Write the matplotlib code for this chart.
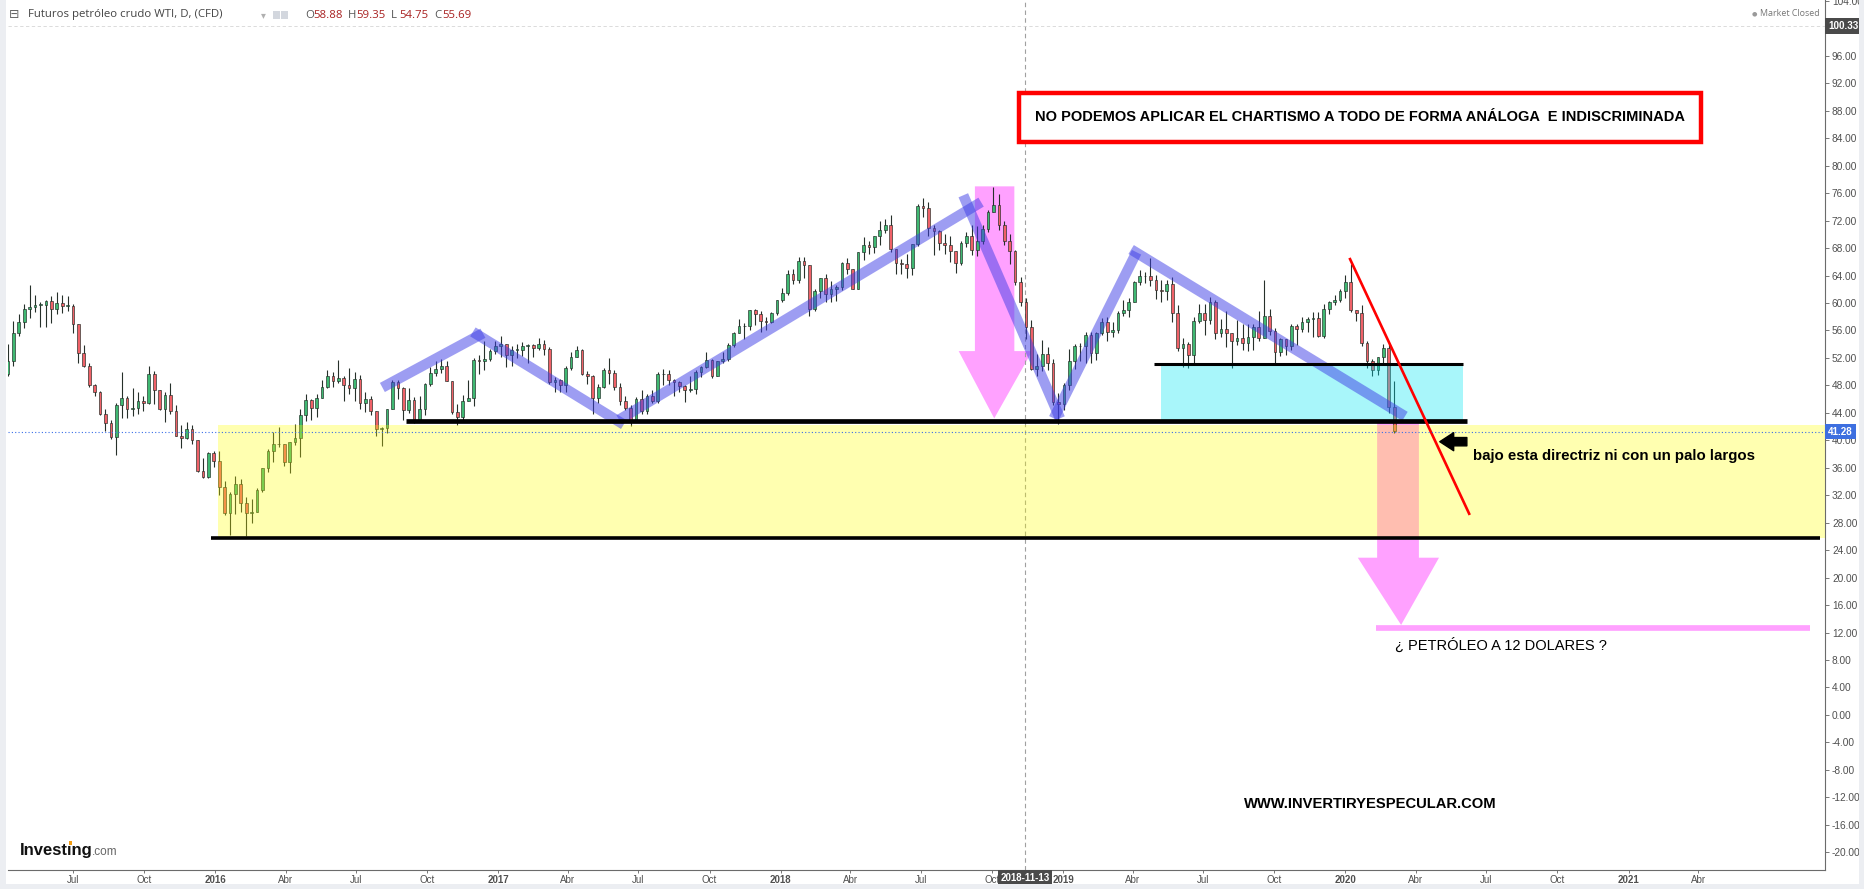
import numpy as np
import pandas as pd
import matplotlib
matplotlib.use("Agg")
import matplotlib.pyplot as plt
import matplotlib.dates as mdates
from matplotlib.patches import Rectangle, Polygon
from matplotlib.ticker import FormatStrFormatter

plt.rcParams['font.family'] = ['Liberation Sans', 'DejaVu Sans']

# weekly candles (Fri closes, open = previous close)
first_open = 49.6
close = np.array([
    # 2015
    51.6, 55.7, 57.2, 59.2, 59.4, 59.7, 59.7, 60.3, 59.1, 60.0, 59.6, 59.6, 56.9, 52.7, 50.9, 48.1, 47.1, 43.9, 42.5, 40.5,
    45.2, 46.1, 44.6, 44.7, 45.7, 45.5, 49.6, 47.3, 44.6, 46.6, 44.3, 40.7, 40.4, 41.7, 40.0, 35.6, 34.7, 38.1, 37.0,
    # 2016
    33.2, 29.4, 32.2, 33.6, 30.9, 29.4, 29.6, 32.8, 35.9, 38.5, 39.4, 39.5, 36.8, 39.7, 40.4, 43.7, 45.9, 44.7, 46.2, 47.8,
    49.3, 48.6, 49.1, 48.0, 47.6, 49.0, 45.4, 46.0, 44.2, 41.6, 41.8, 44.5, 48.5, 47.6, 44.4, 45.9, 43.0, 44.5, 48.2, 49.8,
    50.4, 50.9, 48.7, 44.1, 43.4, 45.7, 46.1, 51.7, 51.5, 51.9, 53.0, 53.7,
    # 2017
    54.0, 52.4, 53.2, 53.2, 53.8, 53.9, 53.4, 54.0, 53.3, 48.5, 48.8, 48.0, 50.6, 52.2, 53.2, 49.6, 49.3, 46.2, 47.8, 50.3,
    49.8, 47.7, 45.8, 44.7, 43.0, 46.0, 44.2, 46.5, 45.8, 49.7, 49.6, 48.8, 48.5, 47.9, 47.3, 47.5, 49.9, 50.7, 51.7, 49.3,
    51.5, 51.8, 53.9, 55.6, 56.7, 56.6, 59.0, 58.4, 57.4, 57.3, 58.5, 60.4,
    # 2018
    61.4, 64.3, 63.4, 66.1, 65.5, 59.2, 61.7, 63.6, 61.3, 62.0, 62.3, 65.9, 64.9, 62.1, 67.4, 68.4, 68.1, 69.7, 70.7, 71.3,
    67.9, 65.8, 65.7, 65.1, 68.6, 74.2, 73.8, 71.0, 70.5, 68.7, 68.5, 67.6, 65.9, 68.7, 69.8, 67.8, 69.0, 70.8, 73.3, 74.3,
    71.3, 69.1, 67.6, 63.1, 60.2, 56.5, 50.4, 50.9, 52.6, 51.2, 45.6, 45.3,
    # 2019
    48.0, 51.6, 53.8, 53.7, 55.3, 52.7, 55.6, 57.3, 55.8, 56.1, 58.5, 59.0, 60.1, 63.1, 63.9, 64.0, 63.3, 61.9, 61.7, 62.8,
    58.6, 53.5, 54.0, 52.5, 57.4, 58.5, 57.5, 60.2, 55.6, 56.2, 55.7, 54.5, 54.9, 54.2, 55.1, 56.5, 54.9, 58.1, 55.9, 52.8,
    54.7, 53.8, 56.7, 56.2, 57.2, 57.7, 57.8, 55.2, 59.2, 60.1, 60.4, 61.7,
    # 2020
    63.1, 59.0, 58.5, 54.2, 51.6, 50.3, 52.1, 53.4, 44.8, 41.3,
])
high = np.array([
    54.0, 57.4, 58.4, 59.9, 62.6, 61.1, 60.2, 60.5, 61.0, 61.6, 61.2, 61.0, 59.9, 57.0, 53.9, 51.2, 48.2, 47.2, 44.5, 42.9,
    45.5, 50.0, 46.4, 47.6, 47.0, 46.4, 50.9, 50.1, 47.3, 47.0, 48.4, 45.2, 42.3, 42.6, 42.3, 40.1, 37.4, 38.3, 38.5,
    38.4, 34.1, 32.4, 34.8, 34.4, 31.8, 31.5, 33.0, 36.0, 38.7, 41.2, 41.9, 39.5, 39.8, 42.4, 44.5, 46.8, 46.0, 46.8, 48.8,
    50.2, 50.0, 51.7, 49.3, 50.5, 49.9, 49.5, 47.0, 46.4, 44.2, 42.0, 44.6, 48.8, 48.8, 47.7, 47.6, 46.3, 46.5, 48.3, 50.7,
    51.6, 51.9, 51.5, 48.7, 45.3, 46.6, 48.8, 52.0, 52.4, 54.5, 53.3, 54.4,
    55.2, 54.0, 53.7, 54.0, 54.3, 54.0, 54.0, 54.9, 54.6, 53.6, 49.2, 48.9, 50.9, 52.9, 53.8, 53.3, 50.1, 49.5, 48.2, 50.5,
    52.0, 50.2, 48.3, 46.5, 45.1, 46.3, 47.3, 46.7, 47.4, 50.0, 50.4, 50.2, 49.0, 48.6, 48.0, 49.4, 50.3, 50.9, 52.9, 51.8,
    51.6, 52.8, 54.2, 55.8, 57.7, 57.1, 59.0, 59.1, 58.8, 58.0, 58.7, 60.5,
    62.2, 64.8, 64.9, 66.7, 66.7, 65.5, 62.0, 63.7, 64.2, 63.2, 62.6, 66.0, 66.6, 65.0, 67.5, 69.6, 69.0, 69.8, 71.9, 72.3,
    72.8, 67.9, 66.4, 67.2, 68.6, 74.5, 75.3, 74.7, 71.4, 70.6, 70.0, 69.8, 67.3, 69.0, 70.4, 71.4, 71.2, 71.3, 73.6, 76.9,
    75.9, 72.0, 70.0, 67.7, 63.8, 60.8, 57.5, 52.6, 54.6, 53.6, 51.9, 46.9,
    48.3, 53.3, 54.0, 54.2, 55.8, 55.8, 55.8, 57.8, 57.9, 57.2, 58.9, 60.4, 60.7, 63.2, 64.8, 64.5, 66.6, 64.1, 63.3, 63.4,
    63.8, 59.7, 54.9, 54.3, 58.0, 59.9, 59.9, 60.9, 60.4, 57.7, 58.8, 55.7, 57.5, 56.9, 57.0, 57.0, 58.8, 63.4, 59.1, 56.4,
    54.9, 54.2, 57.0, 56.9, 57.9, 57.9, 58.7, 58.7, 59.9, 60.3, 61.2, 62.0,
    64.1, 65.7, 59.0, 59.7, 54.5, 51.9, 52.2, 54.0, 54.0, 48.7,
])
low = np.array([
    49.4, 50.9, 55.2, 56.4, 57.8, 58.7, 56.5, 56.5, 57.1, 58.4, 58.6, 58.8, 55.6, 51.2, 50.7, 47.7, 46.4, 43.7, 41.4, 40.2,
    37.8, 43.2, 43.2, 43.6, 43.9, 44.2, 45.3, 45.3, 44.4, 42.6, 43.9, 40.6, 38.9, 40.2, 39.4, 35.4, 34.5, 34.5, 36.1,
    32.1, 29.1, 26.2, 29.3, 29.5, 26.1, 28.0, 30.0, 32.5, 35.4, 36.8, 39.0, 36.3, 35.2, 39.3, 37.6, 42.8, 43.0, 43.4, 46.3,
    47.6, 47.8, 48.4, 45.8, 46.7, 45.8, 44.6, 44.1, 43.7, 40.6, 39.2, 41.0, 44.5, 46.0, 43.0, 44.0, 42.5, 43.0, 43.7, 47.9,
    49.4, 49.8, 48.6, 43.9, 42.2, 43.0, 45.7, 45.0, 49.7, 50.3, 51.6, 52.6,
    52.1, 50.7, 50.9, 52.0, 52.3, 51.2, 52.2, 53.2, 52.5, 48.2, 47.1, 47.1, 47.1, 50.3, 52.2, 49.5, 48.2, 43.8, 45.5, 47.6,
    48.2, 47.3, 45.2, 44.4, 42.1, 42.9, 43.8, 43.8, 45.4, 45.4, 48.0, 48.1, 46.5, 47.0, 45.6, 47.0, 46.8, 49.2, 50.5, 49.1,
    49.4, 51.2, 51.5, 53.6, 55.6, 54.8, 56.1, 56.8, 55.8, 56.1, 57.1, 58.3,
    60.1, 61.2, 62.8, 62.9, 63.7, 58.1, 58.8, 60.8, 60.2, 60.1, 60.3, 61.9, 64.2, 62.0, 62.0, 66.3, 67.2, 67.3, 68.4, 70.2,
    67.4, 64.2, 64.2, 63.6, 64.1, 68.3, 72.5, 69.8, 67.0, 67.8, 67.2, 66.0, 64.4, 65.6, 68.1, 67.0, 66.9, 68.6, 70.4, 73.4,
    70.7, 68.5, 65.7, 62.6, 59.6, 54.8, 50.2, 49.4, 50.1, 50.3, 45.1, 42.4,
    44.4, 47.3, 50.4, 51.5, 51.3, 51.2, 51.7, 55.3, 54.5, 55.1, 55.7, 58.1, 58.0, 60.2, 62.6, 62.9, 62.5, 60.6, 60.1, 60.5,
    57.3, 53.0, 50.7, 50.6, 51.3, 57.1, 55.4, 57.0, 54.8, 55.1, 53.6, 50.5, 53.9, 53.2, 53.0, 53.2, 54.4, 56.9, 55.4, 51.0,
    52.3, 52.4, 53.1, 53.9, 55.8, 55.8, 55.0, 55.1, 54.9, 58.4, 59.7, 60.1,
    60.8, 58.7, 57.4, 53.8, 50.6, 49.3, 49.5, 51.2, 44.0, 41.1,
])

quarter_ticks = pd.date_range('2015-07-01', '2021-04-01', freq='QS')
quarter_labels = ['Jul', 'Oct', '2016', 'Abr', 'Jul', 'Oct', '2017', 'Abr', 'Jul', 'Oct',
                  '2018', 'Abr', 'Jul', 'Oct', '2019', 'Abr', 'Jul', 'Oct', '2020', 'Abr',
                  'Jul', 'Oct', '2021', 'Abr']
price_ticks = [p for p in range(-20, 105, 4) if p != 100]   # 100.00 sits under the crosshair label

last_price = 41.28
cross_date = '2018-11-13'
cross_price = 100.33


def d(s):
    return mdates.date2num(pd.Timestamp(s))


W, H = 1865, 889
fig = plt.figure(figsize=(W / 100, H / 100), dpi=100)
for (x0, y0, w, h) in [(0, 0, 6, H), (W - 6, 0, 6, H), (0, 0, W, 5)]:
    fig.patches.append(Rectangle((x0 / W, y0 / H), w / W, h / H, transform=fig.transFigure,
                                 fc='#eceef2', ec='none', zorder=0))

ax = fig.add_axes([8 / W, 19 / H, (1825 - 8) / W, 870 / H])
ax.set_xlim(d('2015-04-08'), d('2021-09-12'))
ax.set_ylim(-22.6, 104.15)

# candles
week_end = pd.date_range('2015-04-10', periods=len(close), freq='W-FRI')
xc = mdates.date2num(week_end - pd.Timedelta(days=2))
opens = np.r_[first_open, close[:-1]]
high = np.maximum(high, np.maximum(opens, close))
low = np.minimum(low, np.minimum(opens, close))
up = close >= opens
ax.vlines(xc, low, high, colors='#26302a', lw=0.8, zorder=2)
ax.bar(xc, np.maximum(np.abs(close - opens), 0.1), bottom=np.minimum(opens, close), width=3.5,
       color=np.where(up, '#3fb872', '#ef6168'), edgecolor='#1f2b24', linewidth=0.45, zorder=2.2)

# pink arrows (under candles)
pink = dict(fc='#ff00ff', ec='none', alpha=0.37, zorder=1)
ax.add_patch(Polygon([(d('2018-09-09'), 77.0), (d('2018-10-30'), 77.0), (d('2018-10-30'), 53.0),
                      (d('2018-11-22'), 53.0), (d('2018-10-04'), 43.2), (d('2018-08-19'), 53.0),
                      (d('2018-09-09'), 53.0)], closed=True, **pink))
ax.add_patch(Polygon([(d('2020-02-11'), 42.8), (d('2020-04-05'), 42.8), (d('2020-04-05'), 22.9),
                      (d('2020-05-01'), 22.9), (d('2020-03-13'), 13.1), (d('2020-01-17'), 22.9),
                      (d('2020-02-11'), 22.9)], closed=True, **pink))
ax.hlines(12.65, d('2020-02-10'), d('2021-08-24'), color='#ff00ff', alpha=0.37, lw=4.1, zorder=1)

# zones
ax.add_patch(Rectangle((d('2016-01-04'), 25.8), d('2022-06-01') - d('2016-01-04'), 42.3 - 25.8,
                       fc='#ffff00', ec='none', alpha=0.31, zorder=3))
ax.add_patch(Rectangle((d('2019-05-07'), 42.8), d('2020-06-01') - d('2019-05-07'), 51.1 - 42.8,
                       fc='#00e5f2', ec='none', alpha=0.34, zorder=3))

# blue trend bands
bands = [(('2016-08-04', 47.7), ('2016-12-12', 55.6)),
         (('2016-11-29', 55.8), ('2017-06-12', 42.3)),
         (('2017-06-06', 43.0), ('2018-09-17', 74.7)),
         (('2018-08-25', 75.7), ('2018-12-28', 43.2)),
         (('2018-12-20', 43.2), ('2019-04-06', 67.4)),
         (('2019-03-30', 67.8), ('2020-03-18', 43.5))]
for (a, b) in bands:
    ax.plot([d(a[0]), d(b[0])], [a[1], b[1]], color=(0.24, 0.24, 0.9), alpha=0.5, lw=7.5,
            solid_capstyle='butt', zorder=4)

# black levels
ax.hlines(25.8, d('2015-12-26'), d('2021-09-05'), color='black', lw=2.6, zorder=5)
ax.hlines(42.8, d('2016-09-03'), d('2020-06-06'), color='black', lw=3.4, zorder=5)
ax.hlines(51.1, d('2019-04-28'), d('2020-06-01'), color='black', lw=2.2, zorder=5)

# red trendline
ax.plot([d('2020-01-07'), d('2020-06-09')], [66.4, 29.3], color='#ff0000', lw=1.9, zorder=6)

# crosshair and last price line
ax.axvline(d(cross_date), color='#a0a0a0', lw=0.8, ls=(0, (4, 3)), zorder=1.5)
ax.axhline(cross_price, color='#d6d6d6', lw=0.6, ls=(0, (4, 3)), zorder=1.5)
ax.axhline(last_price, color='#3a6ee8', lw=0.8, ls=(0, (1, 2)), zorder=6)

# black arrow and texts
ax.annotate('', xy=(d('2020-05-02'), 39.8), xytext=(d('2020-06-06'), 39.8),
            arrowprops=dict(facecolor='black', edgecolor='black', width=6, headwidth=13,
                            headlength=10, shrink=0), zorder=7)
ax.text(d('2020-06-14'), 37.75, 'bajo esta directriz ni con un palo largos', fontsize=10.8,
        fontweight='bold', color='black', ha='left', va='center', zorder=7)
ax.text(d('2020-03-05'), 10.2, '¿ PETRÓLEO A 12 DOLARES ?', fontsize=10.5, color='black',
        ha='left', va='center', zorder=7)
ax.text(d('2020-02-02'), -13.0, 'WWW.INVERTIRYESPECULAR.COM', fontsize=10.6, fontweight='bold',
        color='black', ha='center', va='center', zorder=7)

ax.add_patch(Rectangle((d('2018-11-05'), 83.46), d('2021-04-05') - d('2018-11-05'), 90.66 - 83.46,
                       fc='white', ec='#ff0000', lw=3.2, zorder=8))
ax.text(d('2020-01-20'), 87.06, 'NO PODEMOS APLICAR EL CHARTISMO A TODO DE FORMA ANÁLOGA  E INDISCRIMINADA',
        fontsize=10.5, fontweight='bold', color='black', ha='center', va='center', zorder=9)

# axes styling
for s in ['top', 'left']:
    ax.spines[s].set_visible(False)
for s in ['right', 'bottom']:
    ax.spines[s].set_color('#6b6b6b')
    ax.spines[s].set_linewidth(0.8)
ax.yaxis.tick_right()
ax.set_yticks(price_ticks)
ax.yaxis.set_major_formatter(FormatStrFormatter('%.2f'))
ax.tick_params(axis='y', labelsize=7.3, labelcolor='#505050', color='#777777', length=3, width=0.7, pad=2)
ax.set_xticks(mdates.date2num(quarter_ticks))
ax.set_xticklabels(quarter_labels)
ax.tick_params(axis='x', labelsize=7, labelcolor='#505050', color='#777777', length=2.5, width=0.7, pad=1)
for lab in ax.get_xticklabels():
    if lab.get_text().isdigit():
        lab.set_fontweight('bold')

ax.text(1.0017, cross_price, '%.2f' % cross_price, transform=ax.get_yaxis_transform(), ha='left',
        va='center', fontsize=7.1, fontweight='bold', color='white', clip_on=False, zorder=10,
        bbox=dict(boxstyle='square,pad=0.3', fc='#4a4a4a', ec='none'))
ax.text(1.0017, last_price, '%.2f' % last_price, transform=ax.get_yaxis_transform(), ha='left',
        va='center', fontsize=7.1, fontweight='bold', color='white', clip_on=False, zorder=10,
        bbox=dict(boxstyle='square,pad=0.3', fc='#3d6fe0', ec='none'))
ax.text(d(cross_date), -0.009, cross_date, transform=ax.get_xaxis_transform(), ha='center',
        va='center', fontsize=7, fontweight='bold', color='white', clip_on=False, zorder=10,
        bbox=dict(boxstyle='square,pad=0.25', fc='#4a4a4a', ec='none'))


# header, status, logo
def fx(px):
    return px / W


def fy(py):
    return 1 - py / H


fig.text(fx(9), fy(15), '⊟', fontsize=9, color='#666666', va='center', family='DejaVu Sans')
fig.text(fx(28), fy(15), 'Futuros petróleo crudo WTI, D, (CFD)', fontsize=8.2, color='#444444',
         va='center', family='Open Sans')
fig.text(fx(261), fy(15), '▾', fontsize=7, color='#b0b0b0', va='center', family='DejaVu Sans')
for x0 in (273, 281):
    fig.patches.append(Rectangle((fx(x0), fy(19)), 7 / W, 8 / H, transform=fig.transFigure,
                                 fc='#d3d7de', ec='none'))
ohlc_labels = ['O', 'H', 'L', 'C']
ohlc_values = ['58.88', '59.35', '54.75', '55.69']
for lab, val, px in zip(ohlc_labels, ohlc_values, (305, 348, 391, 434)):
    fig.text(fx(px), fy(15), lab, fontsize=8.2, color='#555555', va='center', family='Open Sans')
    fig.text(fx(px + 8), fy(15), val, fontsize=8.2, color='#a82020', va='center', family='Open Sans')

fig.text(fx(1752), fy(14), '●', fontsize=4.5, color='#9a9a9a', va='center', family='DejaVu Sans')
fig.text(fx(1760), fy(14), 'Market Closed', fontsize=6.4, color='#777777', va='center', family='Open Sans')

fig.text(fx(20), fy(855), 'Investıng', fontsize=12, fontweight='bold', color='#111111', va='baseline')
fig.text(fx(92), fy(855), '.com', fontsize=8.5, color='#666666', va='baseline')
fig.patches.append(Rectangle((fx(69), fy(845)), 3.5 / W, 4 / H, transform=fig.transFigure,
                             fc='#f39c12', ec='none'))

fig.savefig('out.png', dpi=100)
